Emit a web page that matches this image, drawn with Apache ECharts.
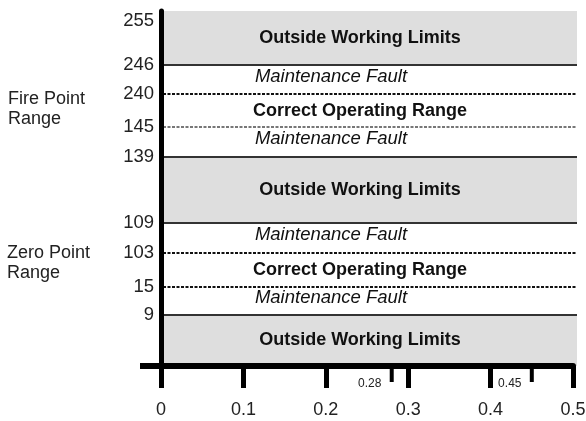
<!DOCTYPE html>
<html><head><meta charset="utf-8">
<script src="https://cdn.jsdelivr.net/npm/echarts@6/dist/echarts.min.js"></script>
<style>html,body{margin:0;padding:0;background:#fff}#c{width:586px;height:421px}</style>
</head><body><div id="c"></div>
<script>
// Drawn (schematic, non-linear) vertical scale: each level label and where it sits on the drawn axis (0 = bottom, 100 = top)
const levelLabels = ['255', '246', '240', '145', '139', '109', '103', '15', '9'];
const levelPos    = [97.2, 84.8, 76.6, 67.3, 58.9, 40.3, 31.8, 22.3, 14.4];
const levelLine   = ['none', 'solid', 'dot', 'dotLight', 'solid', 'solid', 'dot', 'dot', 'solid'];

// Bands between the levels, top to bottom
const bandNames = ['Outside Working Limits', 'Maintenance Fault', 'Correct Operating Range', 'Maintenance Fault',
                   'Outside Working Limits', 'Maintenance Fault', 'Correct Operating Range', 'Maintenance Fault',
                   'Outside Working Limits'];
const bandKinds = ['outside', 'fault', 'correct', 'fault', 'outside', 'fault', 'correct', 'fault', 'outside'];

// Horizontal axis ticks
const xMajorValues = [0, 0.1, 0.2, 0.3, 0.4, 0.5];
const xMajorLabels = ['0', '0.1', '0.2', '0.3', '0.4', '0.5'];
const xMinorValues = [0.28, 0.45];
const xMinorLabels = ['0.28', '0.45'];

const Y_MIN = 0, Y_MAX = 100;
const edges = [Y_MAX].concat(levelPos.slice(1), [Y_MIN]);
const bandData = bandNames.map((n, i) => [0, edges[i], edges[i + 1], i]);
const lineData = levelPos.map((p, i) => [0, p, i]).filter(d => levelLine[d[2]] !== 'none');

const FONT = '"Liberation Sans", Arial, sans-serif';
const chart = echarts.init(document.getElementById('c'));

chart.setOption({
  animation: false,
  backgroundColor: '#fff',
  grid: { left: 161, right: 13, top: 11, bottom: 55, containLabel: false, outerBoundsMode: 'none' },
  xAxis: {
    type: 'value', min: 0, max: 0.5, z: 10,
    axisLine: { show: true, lineStyle: { color: '#000', width: 6 } },
    axisTick: { show: true, customValues: xMajorValues, length: 22, lineStyle: { color: '#000', width: 5 } },
    axisLabel: {
      customValues: xMajorValues, margin: 35, fontSize: 18, color: '#222', fontFamily: FONT,
      formatter: v => { const i = xMajorValues.findIndex(x => Math.abs(x - v) < 1e-9); return i >= 0 ? xMajorLabels[i] : ''; }
    },
    splitLine: { show: false }
  },
  yAxis: {
    type: 'value', min: Y_MIN, max: Y_MAX, z: 10,
    axisLine: { show: true, lineStyle: { color: '#000', width: 5 } },
    axisTick: { show: false },
    axisLabel: {
      customValues: levelPos, margin: 7, fontSize: 18.5, color: '#222', fontFamily: FONT,
      formatter: v => { const i = levelPos.findIndex(x => Math.abs(x - v) < 1e-6); return i >= 0 ? levelLabels[i] : ''; }
    },
    splitLine: { show: false }
  },
  graphic: [
    { type: 'text', left: 8, top: 89, style: { text: 'Fire Point\nRange', font: '18px ' + FONT, lineHeight: 20, fill: '#222' } },
    { type: 'text', left: 7, top: 243, style: { text: 'Zero Point\nRange', font: '18px ' + FONT, lineHeight: 20, fill: '#222' } }
  ],
  series: [
    {
      type: 'custom', z: 2, silent: true,
      data: bandData,
      renderItem: (params, api) => {
        const cs = params.coordSys;
        const i = api.value(3);
        const yTop = api.coord([0, api.value(1)])[1];
        const yBot = api.coord([0, api.value(2)])[1];
        const kind = bandKinds[i];
        const children = [];
        if (kind === 'outside') {
          children.push({ type: 'rect', shape: { x: cs.x + 1, y: yTop, width: cs.width + 3, height: yBot - yTop },
                          style: { fill: '#dedede' } });
        }
        const fault = kind === 'fault';
        const cy = (yTop + yBot) / 2 + (fault ? -3 : 0);
        children.push({ type: 'text', style: {
          text: bandNames[i], x: cs.x + 199 - (fault ? 29 : 0), y: cy, align: 'center', verticalAlign: 'middle',
          font: (fault ? 'italic 18.5px ' : 'bold 18px ') + FONT, fill: '#111' } });
        return { type: 'group', children };
      }
    },
    {
      type: 'custom', z: 3, silent: true,
      data: lineData,
      renderItem: (params, api) => {
        const cs = params.coordSys;
        const kind = levelLine[api.value(2)];
        const y = Math.round(api.coord([0, api.value(1)])[1]);
        let style;
        if (kind === 'solid') style = { stroke: '#333', lineWidth: 2 };
        else if (kind === 'dot') style = { stroke: '#111', lineWidth: 2, lineDash: [3, 1.5] };
        else style = { stroke: '#777', lineWidth: 2, lineDash: [3, 1.5] };
        return { type: 'line', shape: { x1: cs.x + 2, y1: y, x2: cs.x + cs.width + 4, y2: y }, style };
      }
    },
    {
      type: 'custom', z: 11, silent: true,
      data: xMinorValues.map((v, i) => [v, 0, i]),
      renderItem: (params, api) => {
        const cs = params.coordSys;
        const x = api.coord([api.value(0), 0])[0];
        const yb = cs.y + cs.height;
        const i = api.value(2);
        return { type: 'group', children: [
          { type: 'line', shape: { x1: x, y1: yb, x2: x, y2: yb + 16 }, style: { stroke: '#000', lineWidth: 4 } },
          { type: 'text', style: { text: xMinorLabels[i], x: x - 22, y: yb + 18, align: 'center', verticalAlign: 'middle',
            font: '12px ' + FONT, fill: '#222' } }
        ] };
      }
    },
    {
      type: 'custom', z: 11, silent: true,
      data: [[0, 0]],
      renderItem: (params, api) => {
        const p = api.coord([0, 0]);
        return { type: 'line', shape: { x1: p[0] - 21, y1: p[1], x2: p[0], y2: p[1] }, style: { stroke: '#000', lineWidth: 6 } };
      }
    }
  ]
});
</script>
</body></html>
